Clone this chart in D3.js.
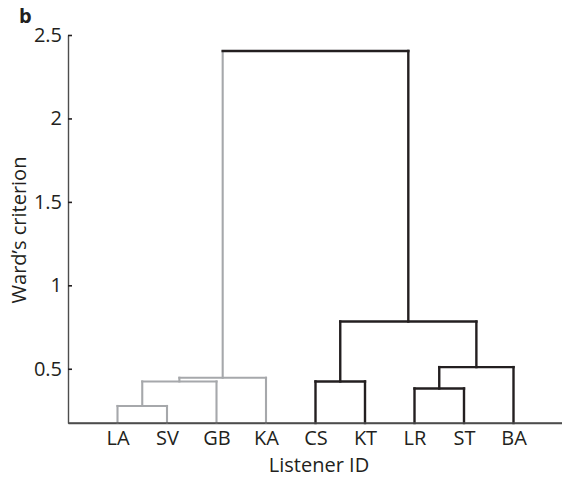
<!DOCTYPE html>
<html>
<head>
<meta charset="utf-8">
<script src="https://cdn.jsdelivr.net/npm/d3@7"></script>
<style>
  body { margin: 0; background: #fff; }
  svg { display: block; font-family: "Open Sans", sans-serif; }
</style>
</head>
<body>
<svg id="chart"></svg>
<script>
// leaves, left to right
const leaves = ["LA", "SV", "GB", "KA", "CS", "KT", "LR", "ST", "BA"];
const leafGroup = ["grey", "grey", "grey", "grey", "black", "black", "black", "black", "black"];

// merges: node ids 0..8 are leaves, merge k gets id 9 + k
const mergeLeft = [0, 9, 10, 4, 6, 13, 12, 11];
const mergeRight = [1, 2, 3, 5, 7, 8, 14, 15];
const mergeHeight = [0.277, 0.424, 0.446, 0.424, 0.382, 0.51, 0.783, 2.404];
const mergeGroup = ["grey", "grey", "grey", "black", "black", "black", "black", "black"];

const yTicks = [0.5, 1, 1.5, 2, 2.5];
const yMin = 0.175;
const yMax = 2.5;

const colors = { grey: "#a6a8ab", black: "#231f20" };

const W = 562, H = 477;
const margin = { top: 35, left: 68, bottom: 54, right: -1 };

const svg = d3.select("#chart").attr("width", W).attr("height", H);

const x = d3.scaleLinear().domain([0, leaves.length + 1]).range([margin.left, W - margin.right]);
const y = d3.scaleLinear().domain([yMin, yMax]).range([H - margin.bottom, margin.top]);

// node positions
const nodeX = leaves.map((d, i) => x(i + 1));
const nodeH = leaves.map(() => yMin);
const nodeColor = leafGroup.slice();
mergeLeft.forEach((l, k) => {
  const r = mergeRight[k];
  nodeX.push((nodeX[l] + nodeX[r]) / 2);
  nodeH.push(mergeHeight[k]);
  nodeColor.push(mergeGroup[k]);
});

// axes
const yaxis = d3.axisLeft(y).tickValues(yTicks).tickFormat(d3.format("")).tickSizeInner(-4).tickSizeOuter(0).tickPadding(6);
const g_y = svg.append("g").attr("transform", `translate(${margin.left},0)`).call(yaxis);

const xaxis = d3.axisBottom(x).tickValues(leaves.map((d, i) => i + 1)).tickFormat((d) => leaves[d - 1]).tickSize(0).tickPadding(8);
const g_x = svg.append("g").attr("transform", `translate(0,${H - margin.bottom})`).call(xaxis);

[g_x, g_y].forEach((g) => {
  g.select(".domain").attr("stroke", "#4d4d4d").attr("stroke-width", 1.4);
  g.selectAll(".tick line").attr("stroke", "#231f20").attr("stroke-width", 1.6);
  g.selectAll(".tick text").attr("fill", "#231f20").style("font-size", "20px").style("font-family", "'Open Sans', sans-serif");
});

// dendrogram links: legs take child's color, bar takes merge color
const links = svg.append("g").attr("fill", "none").attr("stroke-linecap", "square");
mergeLeft.forEach((l, k) => {
  const r = mergeRight[k];
  const yy = y(mergeHeight[k]);
  const w = (c) => (c === "black" ? 2.4 : 2.1);
  [l, r].forEach((c) => {
    links.append("line")
      .attr("x1", nodeX[c]).attr("x2", nodeX[c])
      .attr("y1", y(nodeH[c])).attr("y2", yy)
      .attr("stroke", colors[nodeColor[c]])
      .attr("stroke-width", w(nodeColor[c]));
  });
  links.append("line")
    .attr("x1", nodeX[l]).attr("x2", nodeX[r])
    .attr("y1", yy).attr("y2", yy)
    .attr("stroke", colors[mergeGroup[k]])
    .attr("stroke-width", w(mergeGroup[k]));
});

// redraw x baseline over leaf ends
svg.append("line")
  .attr("x1", margin.left).attr("x2", W)
  .attr("y1", H - margin.bottom).attr("y2", H - margin.bottom)
  .attr("stroke", "#4d4d4d").attr("stroke-width", 1.4);

// labels
svg.append("text")
  .attr("x", 319)
  .attr("y", 472)
  .attr("text-anchor", "middle")
  .attr("fill", "#231f20")
  .style("font-size", "20px")
  .text("Listener ID");

svg.append("text")
  .attr("transform", `translate(26,${230}) rotate(-90)`)
  .attr("text-anchor", "middle")
  .attr("fill", "#231f20")
  .style("font-size", "20px")
  .text("Ward\u2019s criterion");

svg.append("text")
  .attr("x", 19)
  .attr("y", 23)
  .attr("fill", "#231f20")
  .style("font-size", "20px")
  .style("font-weight", "bold")
  .text("b");
</script>
</body>
</html>
